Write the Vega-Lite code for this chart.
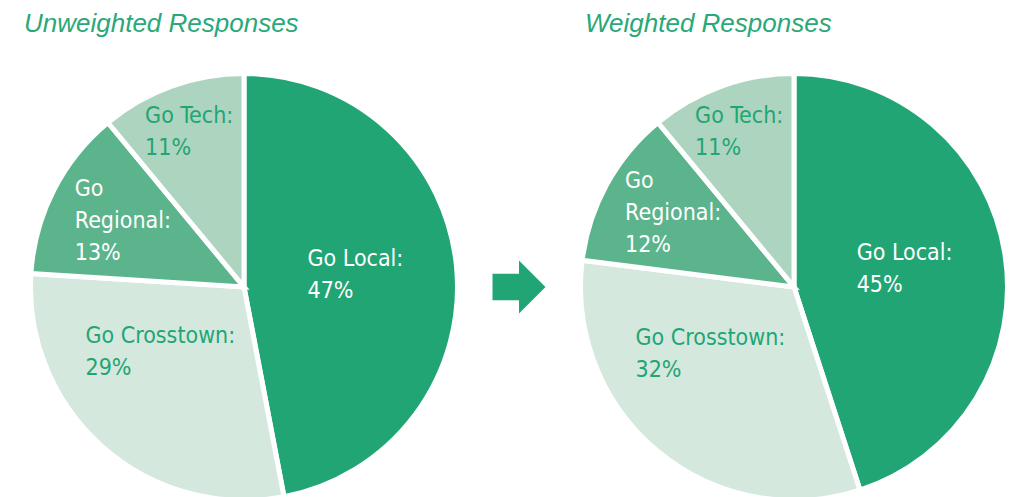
{
  "$schema": "https://vega.github.io/schema/vega-lite/v6.json",
  "padding": {"left": 20, "top": 10, "right": 0, "bottom": 0},
  "spacing": 0,
  "bounds": "flush",
  "config": {
    "view": {"stroke": null},
    "title": {"anchor": "start", "frame": "group", "font": "Liberation Sans", "fontStyle": "italic", "fontWeight": "normal", "fontSize": 26, "color": "#2aa87a", "offset": 27},
    "text": {"font": "DejaVu Sans Condensed, Liberation Sans", "fontSize": 23, "lineHeight": 32, "lineBreak": "\n", "align": "left", "baseline": "middle"}
  },
  "datasets": {
    "unweighted": [
      {"name": "Go Local", "label": "Go Local:", "value": 47, "rank": 1},
      {"name": "Go Crosstown", "label": "Go Crosstown:", "value": 29, "rank": 2},
      {"name": "Go Regional", "label": "Go\nRegional:", "value": 13, "rank": 3},
      {"name": "Go Tech", "label": "Go Tech:", "value": 11, "rank": 4}
    ],
    "weighted": [
      {"name": "Go Local", "label": "Go Local:", "value": 45, "rank": 1},
      {"name": "Go Crosstown", "label": "Go Crosstown:", "value": 32, "rank": 2},
      {"name": "Go Regional", "label": "Go\nRegional:", "value": 12, "rank": 3},
      {"name": "Go Tech", "label": "Go Tech:", "value": 11, "rank": 4}
    ]
  },
  "hconcat": [
    {
      "width": 422, "height": 422,
      "title": {"text": "Unweighted Responses", "dx": -9},
      "data": {"name": "unweighted"},
      "transform": [{"calculate": "datum.label + '\\n' + datum.value + '%'", "as": "txt"}],
      "encoding": {
        "theta": {"field": "value", "type": "quantitative", "stack": true},
        "order": {"field": "rank", "type": "quantitative"}
      },
      "layer": [
        {
          "mark": {"type": "arc", "radius": 213.5, "stroke": "white", "strokeWidth": 5},
          "encoding": {
            "color": {"field": "name", "type": "nominal", "legend": null,
              "scale": {"domain": ["Go Local", "Go Crosstown", "Go Regional", "Go Tech"], "range": ["#22a574", "#d4e8de", "#5cb48c", "#acd4bf"]}}
          }
        },
        {
          "mark": {"type": "text", "radius": 110, "dx": -46, "dy": -18, "color": "white"},
          "encoding": {"text": {"condition": {"test": "datum.name === 'Go Local'", "field": "txt"}, "value": ""}}
        },
        {
          "mark": {"type": "text", "radius": 87, "dx": -101, "dy": -16, "color": "#22a574"},
          "encoding": {"text": {"condition": {"test": "datum.name === 'Go Crosstown'", "field": "txt"}, "value": ""}}
        },
        {
          "mark": {"type": "text", "radius": 154, "dx": -32, "dy": -28, "color": "white"},
          "encoding": {"text": {"condition": {"test": "datum.name === 'Go Regional'", "field": "txt"}, "value": ""}}
        },
        {
          "mark": {"type": "text", "radius": 165, "dx": -43, "dy": -16, "color": "#22a574"},
          "encoding": {"text": {"condition": {"test": "datum.name === 'Go Tech'", "field": "txt"}, "value": ""}}
        }
      ]
    },
    {
      "width": 128, "height": 422,
      "data": {"values": [{"symbol": "arrow"}]},
      "mark": {"type": "point", "filled": true, "opacity": 1, "color": "#22a574", "size": 2809, "shape": "M-1,-0.5L0,-0.5L0,-1L1,0L0,1L0,0.5L-1,0.5Z"},
      "encoding": {}
    },
    {
      "width": 422, "height": 422,
      "title": {"text": "Weighted Responses", "dx": 2},
      "data": {"name": "weighted"},
      "transform": [{"calculate": "datum.label + '\\n' + datum.value + '%'", "as": "txt"}],
      "encoding": {
        "theta": {"field": "value", "type": "quantitative", "stack": true},
        "order": {"field": "rank", "type": "quantitative"}
      },
      "layer": [
        {
          "mark": {"type": "arc", "radius": 213.5, "stroke": "white", "strokeWidth": 5},
          "encoding": {
            "color": {"field": "name", "type": "nominal", "legend": null,
              "scale": {"domain": ["Go Local", "Go Crosstown", "Go Regional", "Go Tech"], "range": ["#22a574", "#d4e8de", "#5cb48c", "#acd4bf"]}}
          }
        },
        {
          "mark": {"type": "text", "radius": 110, "dx": -46, "dy": -17, "color": "white"},
          "encoding": {"text": {"condition": {"test": "datum.name === 'Go Local'", "field": "txt"}, "value": ""}}
        },
        {
          "mark": {"type": "text", "radius": 87, "dx": -103, "dy": -16, "color": "#22a574"},
          "encoding": {"text": {"condition": {"test": "datum.name === 'Go Crosstown'", "field": "txt"}, "value": ""}}
        },
        {
          "mark": {"type": "text", "radius": 154, "dx": -34, "dy": -32, "color": "white"},
          "encoding": {"text": {"condition": {"test": "datum.name === 'Go Regional'", "field": "txt"}, "value": ""}}
        },
        {
          "mark": {"type": "text", "radius": 165, "dx": -43, "dy": -16, "color": "#22a574"},
          "encoding": {"text": {"condition": {"test": "datum.name === 'Go Tech'", "field": "txt"}, "value": ""}}
        }
      ]
    }
  ]
}
